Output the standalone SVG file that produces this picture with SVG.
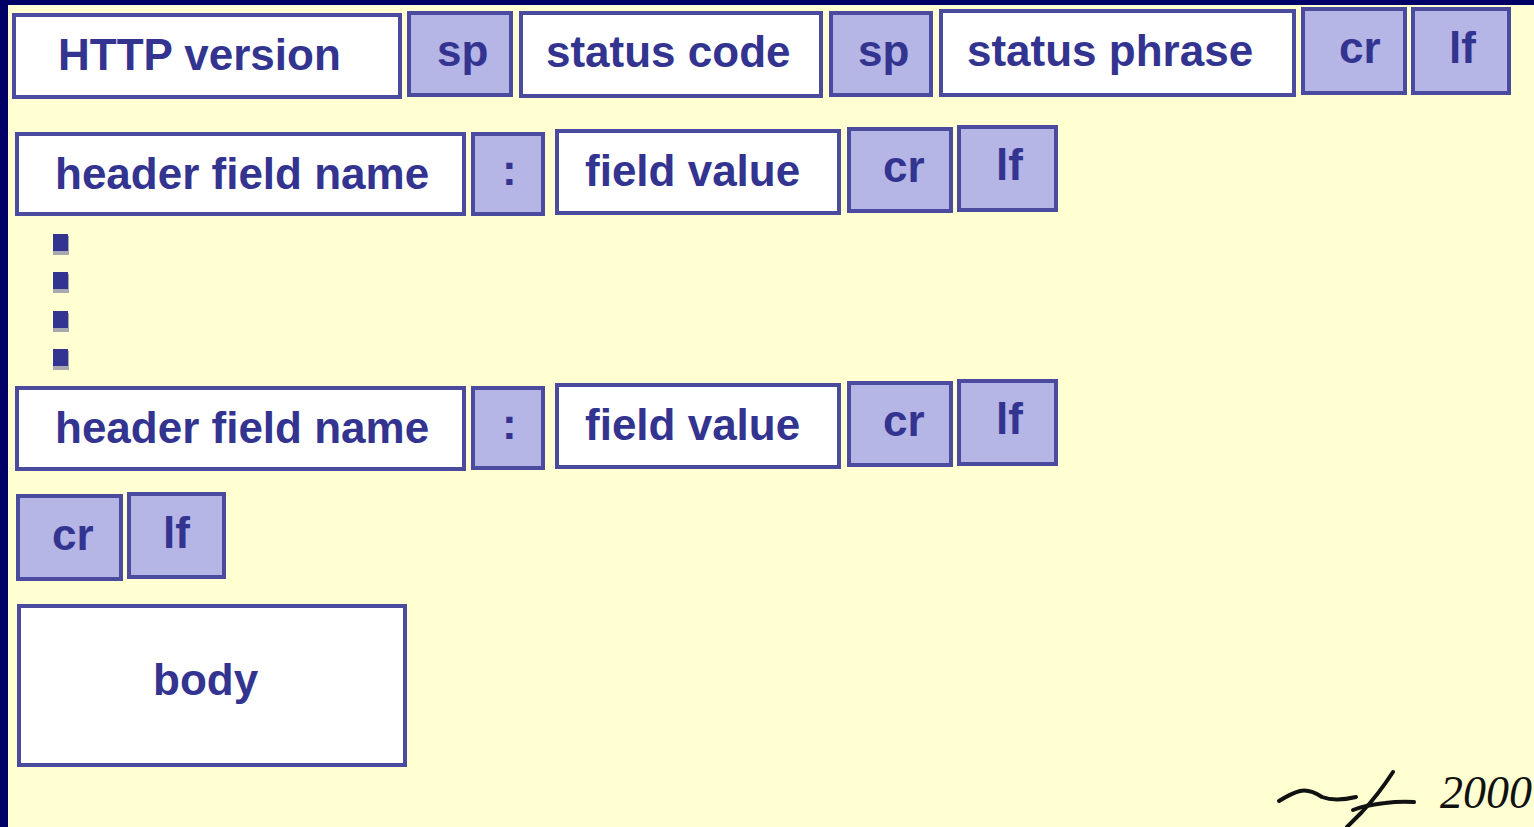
<svg xmlns="http://www.w3.org/2000/svg" width="1534" height="827" viewBox="0 0 1534 827">
  <defs>
    <style>
      .bg { fill: #ffffd2; }
      .frame { fill: #000066; }
      .box { stroke: #4a4a9f; stroke-width: 4; }
      .white { fill: #ffffff; }
      .lav { fill: #b5b5e6; }
      .lbl { font-family: "Liberation Sans", Arial, sans-serif; font-weight: bold; font-size: 44px; fill: #333390; }
      .dot { fill: #333390; }
      .dotsh { fill: #a8a8b0; }
      .sig { fill: none; stroke: #111111; stroke-width: 4; stroke-linecap: round; stroke-linejoin: round; }
      .sigtxt { font-family: "Liberation Serif", serif; font-style: italic; font-size: 46px; fill: #111111; }
    </style>
  </defs>

  <!-- page -->
  <rect class="bg" x="0" y="0" width="1534" height="827"/>
  <rect class="frame" x="0" y="0" width="1534" height="5"/>
  <rect class="frame" x="0" y="0" width="8" height="827"/>

  <!-- status line -->
  <g id="http-version">
    <rect class="box white" x="14" y="15" width="386" height="82"/>
    <text class="lbl" x="58" y="70">HTTP version</text>
  </g>
  <g id="sp-1">
    <rect class="box lav" x="409" y="13" width="102" height="82"/>
    <text class="lbl" x="437" y="66">sp</text>
  </g>
  <g id="status-code">
    <rect class="box white" x="521" y="13" width="300" height="83"/>
    <text class="lbl" x="546" y="67">status code</text>
  </g>
  <g id="sp-2">
    <rect class="box lav" x="831" y="13" width="100" height="82"/>
    <text class="lbl" x="858" y="66">sp</text>
  </g>
  <g id="status-phrase">
    <rect class="box white" x="941" y="11" width="353" height="84"/>
    <text class="lbl" x="967" y="66">status phrase</text>
  </g>
  <g id="cr-1">
    <rect class="box lav" x="1303" y="9" width="102" height="84"/>
    <text class="lbl" x="1339" y="63">cr</text>
  </g>
  <g id="lf-1">
    <rect class="box lav" x="1413" y="9" width="96" height="84"/>
    <text class="lbl" x="1449" y="63">lf</text>
  </g>

  <!-- first header line -->
  <g id="header-name-1">
    <rect class="box white" x="17" y="134" width="447" height="80"/>
    <text class="lbl" x="55" y="189">header field name</text>
  </g>
  <g id="colon-1">
    <rect class="box lav" x="473" y="134" width="70" height="80"/>
    <text class="lbl" x="502" y="185">:</text>
  </g>
  <g id="field-value-1">
    <rect class="box white" x="557" y="131" width="282" height="82"/>
    <text class="lbl" x="585" y="186">field value</text>
  </g>
  <g id="cr-2">
    <rect class="box lav" x="849" y="129" width="102" height="82"/>
    <text class="lbl" x="883" y="182">cr</text>
  </g>
  <g id="lf-2">
    <rect class="box lav" x="959" y="127" width="97" height="83"/>
    <text class="lbl" x="996" y="180">lf</text>
  </g>

  <!-- vertical ellipsis between header lines -->
  <g id="ellipsis">
    <rect class="dotsh" x="53" y="236" width="16" height="19"/>
    <rect class="dot" x="53" y="234" width="15" height="17"/>
    <rect class="dotsh" x="53" y="274" width="16" height="19"/>
    <rect class="dot" x="53" y="272" width="15" height="17"/>
    <rect class="dotsh" x="53" y="313" width="16" height="19"/>
    <rect class="dot" x="53" y="311" width="15" height="17"/>
    <rect class="dotsh" x="53" y="351" width="16" height="19"/>
    <rect class="dot" x="53" y="349" width="15" height="17"/>
  </g>

  <!-- last header line -->
  <g id="header-name-2">
    <rect class="box white" x="17" y="388" width="447" height="81"/>
    <text class="lbl" x="55" y="443">header field name</text>
  </g>
  <g id="colon-2">
    <rect class="box lav" x="473" y="388" width="70" height="80"/>
    <text class="lbl" x="502" y="439">:</text>
  </g>
  <g id="field-value-2">
    <rect class="box white" x="557" y="385" width="282" height="82"/>
    <text class="lbl" x="585" y="440">field value</text>
  </g>
  <g id="cr-3">
    <rect class="box lav" x="849" y="383" width="102" height="82"/>
    <text class="lbl" x="883" y="436">cr</text>
  </g>
  <g id="lf-3">
    <rect class="box lav" x="959" y="381" width="97" height="83"/>
    <text class="lbl" x="996" y="434">lf</text>
  </g>

  <!-- blank line -->
  <g id="cr-4">
    <rect class="box lav" x="18" y="496" width="103" height="83"/>
    <text class="lbl" x="52" y="550">cr</text>
  </g>
  <g id="lf-4">
    <rect class="box lav" x="129" y="494" width="95" height="83"/>
    <text class="lbl" x="163" y="548">lf</text>
  </g>

  <!-- entity body -->
  <g id="body">
    <rect class="box white" x="19" y="606" width="386" height="159"/>
    <text class="lbl" x="153" y="695">body</text>
  </g>

  <!-- signature -->
  <g id="signature">
    <path class="sig" d="M1279 801 Q1292 793 1300 791 Q1310 789 1322 797 Q1335 802 1356 797"/>
    <path class="sig" d="M1393 772 Q1378 795 1362 812 Q1352 822 1347 827"/>
    <path class="sig" d="M1353 810 Q1366 805 1385 803 Q1400 801 1414 802"/>
    <text class="sigtxt" x="1440" y="808">2000</text>
  </g>
</svg>
